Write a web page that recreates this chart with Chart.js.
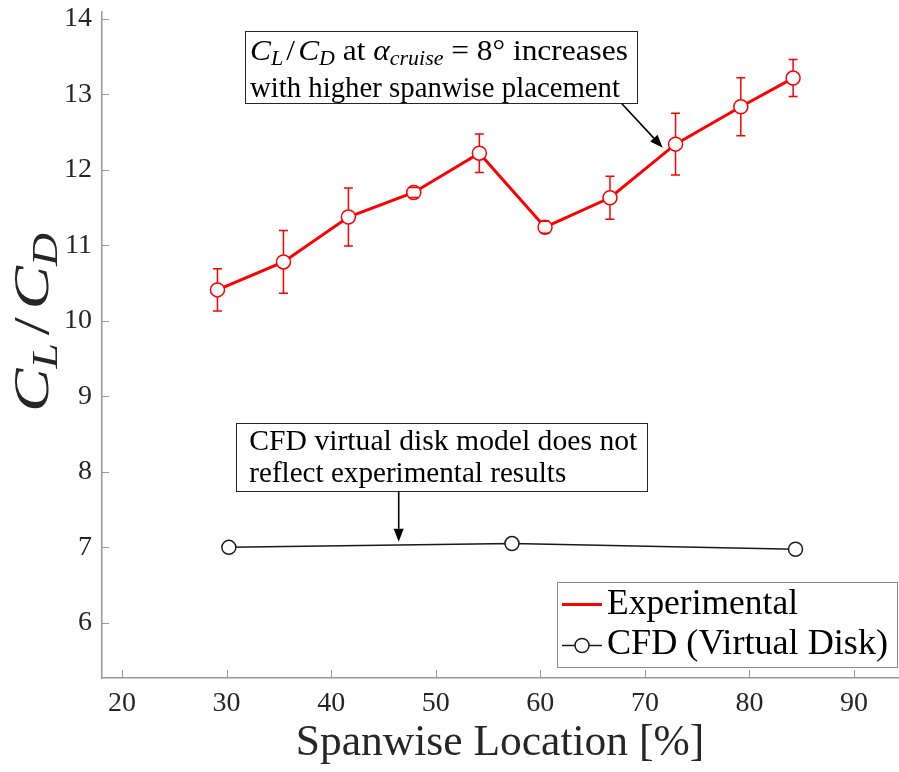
<!DOCTYPE html>
<html>
<head>
<meta charset="utf-8">
<script src="https://cdn.jsdelivr.net/npm/chart.js@4.4.1/dist/chart.umd.min.js"></script>
<style>
html,body{margin:0;padding:0;background:#ffffff;}
canvas{display:block;}
</style>
</head>
<body>
<canvas id="c" width="899" height="772"></canvas>
<script>
// ---------------- data ----------------
const spanExp   = [29.13, 35.44, 41.65, 47.9, 54.17, 60.45, 66.66, 72.93, 79.17, 84.17];
const clcdExp   = [10.41, 10.78, 11.375, 11.70, 12.22, 11.24, 11.63, 12.34, 12.835, 13.215];
const errExp    = [0.28, 0.415, 0.385, 0.066, 0.255, 0.08, 0.285, 0.41, 0.385, 0.245];
const spanCFD   = [30.22, 57.29, 84.4];
const clcdCFD   = [7.00, 7.05, 6.975];
const xTicks    = [20, 30, 40, 50, 60, 70, 80, 90];
const yTicks    = [6, 7, 8, 9, 10, 11, 12, 13, 14];
const seriesNames = ['Experimental', 'CFD (Virtual Disk)'];

const FONT = '"Liberation Serif", "Times New Roman", serif';
const AXIS_GRAY = '#9a9a9a';

// ---------------- rich text helpers ----------------
function segFont(s, F) {
  const size = s.sub ? F * 0.7 : F;
  return (s.it ? 'italic ' : '') + size + 'px ' + FONT;
}
function richWidth(ctx, segs, F) {
  let w = 0;
  for (const s of segs) {
    ctx.font = segFont(s, F);
    w += ctx.measureText(s.t).width + (s.pre || 0) * F + (s.post || 0) * F;
  }
  return w;
}
function drawRich(ctx, segs, x, y, F, targetW, color) {
  ctx.save();
  const w = richWidth(ctx, segs, F);
  const sx = targetW ? targetW / w : 1;
  ctx.translate(x, y);
  ctx.scale(sx, 1);
  ctx.fillStyle = color;
  ctx.textBaseline = 'alphabetic';
  ctx.textAlign = 'left';
  let cx = 0;
  for (const s of segs) {
    ctx.font = segFont(s, F);
    cx += (s.pre || 0) * F;
    ctx.fillText(s.t, cx, s.sub ? F * 0.17 : 0);
    cx += ctx.measureText(s.t).width + (s.post || 0) * F;
  }
  ctx.restore();
}
function plain(t) { return [{t: t}]; }

function arrow(ctx, x1, y1, x2, y2) {
  const ang = Math.atan2(y2 - y1, x2 - x1);
  const L = 13, W = 5;
  ctx.save();
  ctx.strokeStyle = '#000';
  ctx.fillStyle = '#000';
  ctx.lineWidth = 1.6;
  ctx.beginPath();
  ctx.moveTo(x1, y1);
  ctx.lineTo(x2 - L * Math.cos(ang), y2 - L * Math.sin(ang));
  ctx.stroke();
  ctx.beginPath();
  ctx.moveTo(x2, y2);
  ctx.lineTo(x2 - L * Math.cos(ang) + W * Math.sin(ang), y2 - L * Math.sin(ang) - W * Math.cos(ang));
  ctx.lineTo(x2 - L * Math.cos(ang) - W * Math.sin(ang), y2 - L * Math.sin(ang) + W * Math.cos(ang));
  ctx.closePath();
  ctx.fill();
  ctx.restore();
}

// annotation anchors in data coordinates
const ann1 = {x0: 31.81, x1: 69.28, yTop: 13.838, yBot: 12.878, arrowFromX: 67.78, tipX: 71.70, tipY: 12.293};
const ann2 = {x0: 30.90, x1: 70.23, yTop: 8.643, yBot: 7.747, arrowX: 46.46, tipY: 7.075};

function noPad(s) { s.paddingLeft = 0; s.paddingRight = 0; s.paddingTop = 0; s.paddingBottom = 0; }

function errorBars(chart, part) {
  const ctx = chart.ctx;
  const xs = chart.scales.x, ys = chart.scales.y;
  ctx.save();
  ctx.strokeStyle = '#ff0000';
  ctx.lineWidth = 1.5;
  for (let i = 0; i < spanExp.length; i++) {
    const px = xs.getPixelForValue(spanExp[i]);
    const pt = ys.getPixelForValue(clcdExp[i] + errExp[i]);
    const pb = ys.getPixelForValue(clcdExp[i] - errExp[i]);
    ctx.beginPath();
    if (part === 'stem') {
      ctx.moveTo(px, pt); ctx.lineTo(px, pb);
    } else {
      ctx.moveTo(px - 4.5, pt); ctx.lineTo(px + 4.5, pt);
      ctx.moveTo(px - 4.5, pb); ctx.lineTo(px + 4.5, pb);
    }
    ctx.stroke();
  }
  ctx.restore();
}

// ---------------- plugin ----------------
const decor = {
  id: 'decor',
  beforeDatasetsDraw(chart) { errorBars(chart, 'stem'); },
  afterDatasetsDraw(chart) { errorBars(chart, 'cap'); },
  afterDraw(chart) {
    const ctx = chart.ctx;
    const xs = chart.scales.x, ys = chart.scales.y;
    const ca = chart.chartArea;
    // inward ticks
    ctx.save();
    ctx.strokeStyle = AXIS_GRAY;
    ctx.lineWidth = 1;
    for (const v of xTicks) {
      const px = Math.round(xs.getPixelForValue(v)) + 0.5;
      ctx.beginPath(); ctx.moveTo(px, ca.bottom); ctx.lineTo(px, ca.bottom - 8); ctx.stroke();
    }
    for (const v of yTicks) {
      const py = Math.round(ys.getPixelForValue(v)) + 0.5;
      ctx.beginPath(); ctx.moveTo(ca.left, py); ctx.lineTo(ca.left + 7, py); ctx.stroke();
    }
    ctx.restore();

    // y axis title  C_L / C_D
    ctx.save();
    ctx.translate(ca.left - 54, ca.top + 400);
    ctx.rotate(-Math.PI / 2);
    drawRich(ctx, [
      {t: 'C', it: true}, {t: 'L', it: true, sub: true},
      {t: '/', pre: 0.12, post: 0.12},
      {t: 'C', it: true}, {t: 'D', it: true, sub: true}
    ], 0, 0, 50, 179, '#262626');
    ctx.restore();

    // annotation 1
    {
      const L = xs.getPixelForValue(ann1.x0), R = xs.getPixelForValue(ann1.x1);
      const T = ys.getPixelForValue(ann1.yTop), B = ys.getPixelForValue(ann1.yBot);
      ctx.save();
      ctx.fillStyle = '#fff'; ctx.fillRect(L, T, R - L, B - T);
      ctx.strokeStyle = '#262626'; ctx.lineWidth = 1;
      ctx.strokeRect(Math.round(L) + 0.5, Math.round(T) + 0.5, Math.round(R - L), Math.round(B - T));
      ctx.restore();
      drawRich(ctx, [
        {t: 'C', it: true}, {t: 'L', it: true, sub: true},
        {t: '/', pre: 0.1, post: 0.1},
        {t: 'C', it: true}, {t: 'D', it: true, sub: true},
        {t: ' at '},
        {t: 'α', it: true}, {t: 'cruise', it: true, sub: true},
        {t: ' = 8° increases'}
      ], L + 4.5, T + 29, 29, 378, '#000');
      drawRich(ctx, plain('with higher spanwise placement'), L + 4.5, T + 66, 29, 370, '#000');
      arrow(ctx, xs.getPixelForValue(ann1.arrowFromX), B, xs.getPixelForValue(ann1.tipX), ys.getPixelForValue(ann1.tipY));
    }
    // annotation 2
    {
      const L = xs.getPixelForValue(ann2.x0), R = xs.getPixelForValue(ann2.x1);
      const T = ys.getPixelForValue(ann2.yTop), B = ys.getPixelForValue(ann2.yBot);
      ctx.save();
      ctx.fillStyle = '#fff'; ctx.fillRect(L, T, R - L, B - T);
      ctx.strokeStyle = '#262626'; ctx.lineWidth = 1;
      ctx.strokeRect(Math.round(L) + 0.5, Math.round(T) + 0.5, Math.round(R - L), Math.round(B - T));
      ctx.restore();
      drawRich(ctx, plain('CFD virtual disk model does not'), L + 13.3, T + 26.7, 29, 388, '#000');
      drawRich(ctx, plain('reflect experimental results'), L + 13.3, T + 58.4, 29, 317, '#000');
      const ax = xs.getPixelForValue(ann2.arrowX);
      arrow(ctx, ax, B, ax, ys.getPixelForValue(ann2.tipY));
    }

    // legend
    {
      const R = ca.right - 1, B = ca.bottom - 11;
      const W = 340, H = 85;
      const L = R - W, T = B - H;
      ctx.save();
      ctx.fillStyle = '#fff'; ctx.fillRect(L, T, W, H);
      ctx.strokeStyle = '#8a8a8a'; ctx.lineWidth = 1;
      ctx.strokeRect(Math.round(L) + 0.5, Math.round(T) + 0.5, W, H);
      const ds = chart.data.datasets;
      let yy = T + 22.5;
      ctx.strokeStyle = ds[0].borderColor; ctx.lineWidth = ds[0].borderWidth;
      ctx.beginPath(); ctx.moveTo(L + 5, yy); ctx.lineTo(L + 45, yy); ctx.stroke();
      yy = T + 63.5;
      ctx.strokeStyle = ds[1].borderColor; ctx.lineWidth = ds[1].borderWidth;
      ctx.beginPath(); ctx.moveTo(L + 5, yy); ctx.lineTo(L + 45, yy); ctx.stroke();
      ctx.beginPath(); ctx.arc(L + 25, yy, 7, 0, Math.PI * 2);
      ctx.fillStyle = '#fff'; ctx.fill(); ctx.lineWidth = 1.5; ctx.stroke();
      ctx.restore();
      drawRich(ctx, plain(ds[0].label), L + 50, T + 31.6, 35, 191, '#000');
      drawRich(ctx, plain(ds[1].label), L + 50, T + 71.6, 35, 281, '#000');
    }
  }
};

const chart = new Chart(document.getElementById('c'), {
  type: 'line',
  data: {
    datasets: [
      {
        label: seriesNames[0],
        data: spanExp.map((x, i) => ({x: x, y: clcdExp[i]})),
        borderColor: '#ff0000',
        borderWidth: 3,
        pointRadius: 7,
        pointBackgroundColor: '#ffffff',
        pointBorderColor: '#ff0000',
        pointBorderWidth: 1.5,
        tension: 0,
        fill: false
      },
      {
        label: seriesNames[1],
        data: spanCFD.map((x, i) => ({x: x, y: clcdCFD[i]})),
        borderColor: '#1a1a1a',
        borderWidth: 1.5,
        pointRadius: 7,
        pointBackgroundColor: '#ffffff',
        pointBorderColor: '#1a1a1a',
        pointBorderWidth: 1.5,
        tension: 0,
        fill: false
      }
    ]
  },
  options: {
    responsive: false,
    animation: false,
    events: [],
    layout: {autoPadding: false, padding: {top: 12, right: 1, left: 0, bottom: 0}},
    plugins: {legend: {display: false}, tooltip: {enabled: false}},
    scales: {
      x: {
        type: 'linear',
        min: 18.09, max: 94.2,
        afterBuildTicks: (s) => { s.ticks = xTicks.map(v => ({value: v})); },
        afterFit: (s) => { s.height = 94; noPad(s); },
        grid: {display: false, drawTicks: false},
        border: {display: true, color: AXIS_GRAY, width: 1.5},
        ticks: {
          font: {family: FONT, size: 28},
          color: '#262626',
          padding: 9,
          maxRotation: 0,
          autoSkip: false
        },
        title: {
          display: true,
          text: 'Spanwise Location [%]',
          font: {family: FONT, size: 43.5},
          color: '#262626',
          padding: {top: 0, bottom: 2}
        }
      },
      y: {
        type: 'linear',
        min: 5.27, max: 14.09,
        afterBuildTicks: (s) => { s.ticks = yTicks.map(v => ({value: v})); },
        afterFit: (s) => { s.width = 102; noPad(s); },
        grid: {display: false, drawTicks: false},
        border: {display: true, color: AXIS_GRAY, width: 1.5},
        ticks: {
          font: {family: FONT, size: 28},
          color: '#262626',
          padding: 10,
          autoSkip: false
        }
      }
    }
  },
  plugins: [decor]
});
</script>
</body>
</html>
